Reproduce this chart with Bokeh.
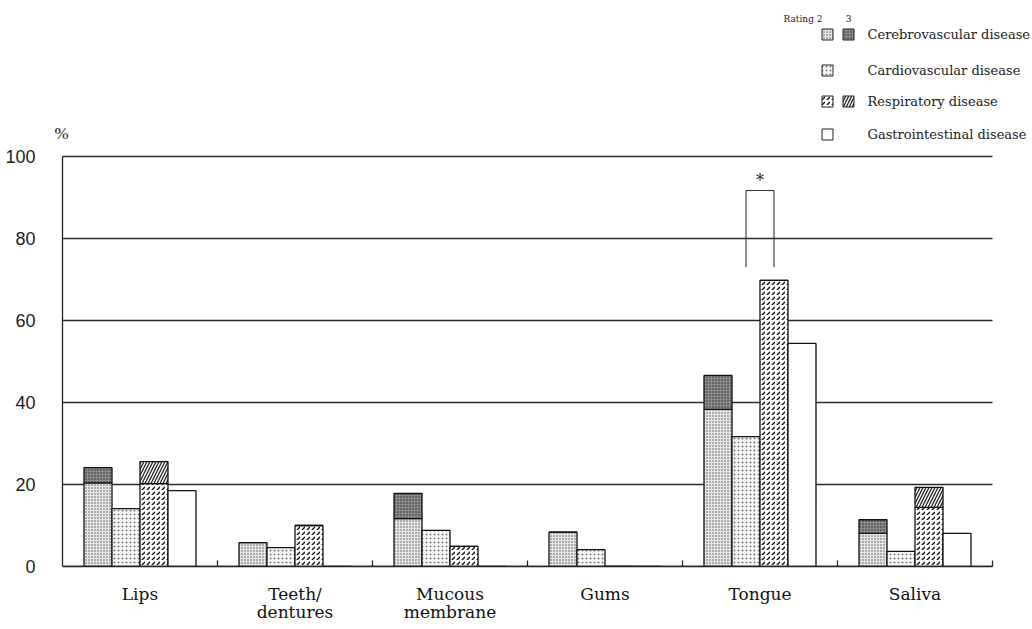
from bokeh.plotting import figure
from bokeh.models import Range1d, LinearAxis, FixedTicker, Label
from bokeh.core.properties import value
from bokeh.embed import file_html
from bokeh.resources import INLINE

# Oral assessment: share of patients (%) rated 2 or 3, by disease group
categories_line1 = ["Lips", "Teeth/", "Mucous", "Gums", "Tongue", "Saliva"]
categories_line2 = ["", "dentures", "membrane", "", "", ""]
cerebro_r2 = [20.4, 5.8, 11.7, 8.4, 38.3, 8.1]
cerebro_total = [24.1, 5.8, 17.8, 8.4, 46.6, 11.4]
cardio_total = [14.1, 4.6, 8.8, 4.1, 31.7, 3.7]
resp_r2 = [20.2, 10.0, 4.9, 0.0, 69.8, 14.4]
resp_total = [25.6, 10.0, 4.9, 0.0, 69.8, 19.3]
gastro_total = [18.5, 0.0, 0.0, 0.0, 54.4, 8.1]
y_ticks = [0, 20, 40, 60, 80, 100]

# significance bracket (Tongue: cardiovascular vs respiratory)
sig_category = 4
sig_low, sig_high = 73.0, 91.7

W, H = 1032, 629
AXIS_X = 62          # pixel column of the value axis
LEFT, BOTTOM = 54, 63
slot_px = 155.0
unit_px = 4.1
frame_w = W - LEFT
frame_h = H - BOTTOM
x0 = -(AXIS_X - LEFT) / slot_px

p = figure(width=W, height=H, output_backend="svg", toolbar_location=None,
           x_range=Range1d(x0, x0 + frame_w / slot_px), y_range=Range1d(0, frame_h / unit_px),
           min_border_left=LEFT, min_border_bottom=BOTTOM, min_border_top=0,
           min_border_right=0, x_axis_type=None, y_axis_type=None)
p.outline_line_color = None
p.background_fill_color = "white"
p.border_fill_color = "white"
p.xgrid.visible = False
p.ygrid.visible = False


def px_x(px):
    return (px - AXIS_X) / slot_px


def px_y(py):
    return (frame_h - py) / unit_px


n = len(categories_line1)
centers = [i + 0.5 for i in range(n)]
bw = 28.0 / slot_px
offs = [-1.5 * bw, -0.5 * bw, 0.5 * bw, 1.5 * bw]

# horizontal reference lines, spanning the category area only
p.segment(x0=[0] * len(y_ticks), x1=[n] * len(y_ticks), y0=y_ticks, y1=y_ticks,
          line_color="#2a2a2a", line_width=1.3)
# value axis line
p.segment(x0=[0], x1=[0], y0=[0], y1=[max(y_ticks)], line_color="#222", line_width=1.3)

# value axis labels
yaxis = LinearAxis(ticker=FixedTicker(ticks=y_ticks), bounds=(0, 100),
                   major_tick_in=0, major_tick_out=0, minor_tick_in=0, minor_tick_out=0,
                   axis_line_color=None, major_label_standoff=19)
yaxis.major_label_text_font = "Liberation Sans"
yaxis.major_label_text_font_size = "18px"
yaxis.major_label_text_color = "#222"
p.add_layout(yaxis, "left")

# category axis: first label line, with slot-boundary ticks
xaxis = LinearAxis(ticker=FixedTicker(ticks=centers, minor_ticks=list(range(1, n + 1))),
                   bounds=(0, n),
                   major_tick_in=0, major_tick_out=0, minor_tick_in=6, minor_tick_out=0,
                   minor_tick_line_color="#222", minor_tick_line_width=1.3,
                   axis_line_color="#222", axis_line_width=1.5,
                   major_label_standoff=17,
                   major_label_overrides={c: lab for c, lab in zip(centers, categories_line1)})
xaxis.major_label_text_font = "DejaVu Serif"
xaxis.major_label_text_font_size = "17px"
xaxis.major_label_text_color = "#111"
p.add_layout(xaxis, "below")

# second label line
xaxis2 = LinearAxis(ticker=FixedTicker(ticks=centers), bounds=(0, n),
                    major_tick_in=0, major_tick_out=0, minor_tick_in=0, minor_tick_out=0,
                    axis_line_color=None, major_label_standoff=-5,
                    major_label_overrides={c: lab for c, lab in zip(centers, categories_line2)})
xaxis2.major_label_text_font = "DejaVu Serif"
xaxis2.major_label_text_font_size = "17px"
xaxis2.major_label_text_color = "#111"
p.add_layout(xaxis2, "below")

line_kw = dict(line_color="#111", line_width=1.3)
styles = {
    "cere2": dict(fill_color="#e6e6e6", hatch_pattern="dot", hatch_scale=3, hatch_color="#555", hatch_weight=1),
    "cere3": dict(fill_color="#8c8c8c", hatch_pattern="dot", hatch_scale=3, hatch_color="#222", hatch_weight=1),
    "cardio": dict(fill_color="#fafafa", hatch_pattern="dot", hatch_scale=4, hatch_color="#777", hatch_weight=0.8),
    "resp2": dict(fill_color="white", hatch_pattern="right_diagonal_dash", hatch_scale=5, hatch_color="#111", hatch_weight=1.3),
    "resp3": dict(fill_color="white", hatch_pattern="right_diagonal_line", hatch_scale=6, hatch_color="#222", hatch_weight=1.3),
    "gastro": dict(fill_color="white"),
}

x_c = [c + offs[0] for c in centers]
x_d = [c + offs[1] for c in centers]
x_r = [c + offs[2] for c in centers]
x_g = [c + offs[3] for c in centers]

p.vbar(x=x_c, top=cerebro_r2, bottom=0, width=bw, **styles["cere2"], **line_kw)
p.vbar(x=x_c, top=cerebro_total, bottom=cerebro_r2, width=bw, **styles["cere3"], **line_kw)
p.vbar(x=x_d, top=cardio_total, bottom=0, width=bw, **styles["cardio"], **line_kw)
p.vbar(x=x_r, top=resp_r2, bottom=0, width=bw, **styles["resp2"], **line_kw)
p.vbar(x=x_r, top=resp_total, bottom=resp_r2, width=bw, **styles["resp3"], **line_kw)
p.vbar(x=x_g, top=gastro_total, bottom=0, width=bw, **styles["gastro"], **line_kw)

# significance bracket
bx0 = centers[sig_category] + offs[1]
bx1 = centers[sig_category] + offs[2]
p.line(x=[bx0, bx0, bx1, bx1], y=[sig_low, sig_high, sig_high, sig_low], line_color="#333", line_width=1.1)
p.text(x=[(bx0 + bx1) / 2], y=[sig_high + 0.2], text=["*"], text_align="center",
       text_baseline="bottom", text_font=value("DejaVu Serif"), text_font_size="16px", text_color="#222")

# unit label
p.add_layout(Label(x=px_x(61), y=px_y(133), text="%", text_align="center", text_baseline="middle",
                   text_font="Liberation Serif", text_font_size="17px", text_color="#222"))

# legend
sq = 11
leg_x1, leg_x2, leg_tx = 827, 848, 867
leg_rows = [
    ("Cerebrovascular disease", 34, ["cere2", "cere3"]),
    ("Cardiovascular disease", 70, ["cardio"]),
    ("Respiratory disease", 101, ["resp2", "resp3"]),
    ("Gastrointestinal disease", 134, ["gastro"]),
]
for label, ypx, keys in leg_rows:
    for k, xpx in zip(keys, [leg_x1, leg_x2]):
        p.rect(x=[px_x(xpx)], y=[px_y(ypx)], width=sq, height=sq, width_units="screen",
               height_units="screen", **styles[k], line_color="#222", line_width=1)
    p.add_layout(Label(x=px_x(leg_tx), y=px_y(ypx), text=label, text_align="left", text_baseline="middle",
                       text_font="DejaVu Serif", text_font_size="13px", text_color="#222"))

p.add_layout(Label(x=px_x(783), y=px_y(18), text="Rating 2", text_align="left", text_baseline="middle",
                   text_font="DejaVu Serif", text_font_size="9px", text_color="#222"))
p.add_layout(Label(x=px_x(leg_x2), y=px_y(18), text="3", text_align="center", text_baseline="middle",
                   text_font="DejaVu Serif", text_font_size="9px", text_color="#222"))

open("out.html", "w").write(file_html(p, INLINE))
